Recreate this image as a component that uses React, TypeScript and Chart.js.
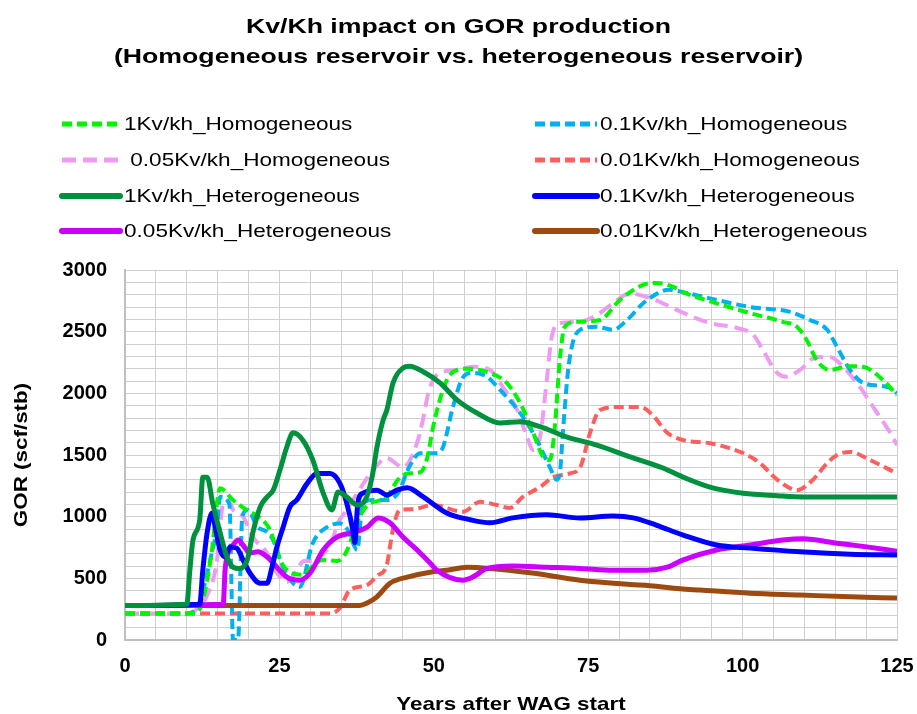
import { useEffect, useRef } from 'react';
import { Chart, registerables } from 'chart.js';

Chart.register(...registerables);

const TITLE_LINES = ['Kv/Kh impact on GOR production', '(Homogeneous reservoir vs. heterogeneous reservoir)'];
const X_TITLE = 'Years after WAG start';
const Y_TITLE = 'GOR (scf/stb)';

const LABELS = [
  '1Kv/kh_Homogeneous',
  '0.1Kv/kh_Homogeneous',
  '0.05Kv/kh_Homogeneous',
  '0.01Kv/kh_Homogeneous',
  '1Kv/kh_Heterogeneous',
  '0.1Kv/kh_Heterogeneous',
  '0.05Kv/kh_Heterogeneous',
  '0.01Kv/kh_Heterogeneous',
];

// 1Kv/kh_Homogeneous
const X_HOM_1 = [0, 11, 12.5, 14, 15.4, 17.5, 19.7, 21.9, 23.5, 25.1, 26.7, 28.8, 30.4, 32.1, 34.3, 35.9, 37.6, 39.2, 42.4, 44.2, 45.8, 47.8, 48.9, 49.9, 51.3, 52.6, 55.4, 59.1, 61.8, 64, 66.1, 67.7, 68.8, 69.6, 70.4, 71.2, 73.2, 76.9, 80.1, 83.9, 86.1, 88.7, 90.4, 95.8, 101.2, 106.5, 108.8, 110.4, 112, 114.1, 117.4, 119.5, 122.7, 125];
const Y_HOM_1 = [215, 215, 300, 700, 1230, 1135, 1055, 990, 890, 650, 550, 530, 600, 650, 640, 720, 960, 1090, 1160, 1300, 1350, 1360, 1470, 1730, 2000, 2150, 2200, 2165, 2085, 1920, 1680, 1485, 1460, 1730, 2270, 2540, 2580, 2595, 2755, 2880, 2895, 2865, 2820, 2730, 2650, 2580, 2540, 2430, 2270, 2190, 2220, 2215, 2110, 1985];

// 0.1Kv/kh_Homogeneous
const X_HOM_01 = [0, 10, 12, 13.8, 14.9, 15.4, 16.9, 17.5, 18.3, 19, 19.9, 21.4, 23, 24, 25.6, 27.2, 28.3, 30.4, 32.7, 34.8, 36.1, 37.6, 38.5, 40.2, 42.4, 44.2, 46, 47.8, 50.5, 51.5, 53.1, 54.8, 56.3, 58.6, 60.7, 64, 66.7, 68.8, 69.9, 70.4, 70.9, 71.7, 72.5, 73.7, 76.4, 79, 81.3, 83.9, 86.6, 88, 90.4, 94.7, 101.2, 107.7, 110.9, 113.7, 115.3, 117.4, 119.5, 123.9, 125];
const Y_HOM_01 = [215, 215, 300, 650, 920, 1160, 1100, 0, 0, 1000, 1055, 920, 875, 810, 590, 460, 430, 785, 915, 945, 890, 730, 1110, 1135, 1135, 1190, 1400, 1515, 1515, 1565, 1890, 2135, 2165, 2135, 2030, 1840, 1620, 1400, 1300, 1350, 1680, 2165, 2410, 2515, 2540, 2515, 2595, 2730, 2820, 2840, 2820, 2770, 2700, 2660, 2595, 2515, 2375, 2190, 2085, 2045, 2000];

// 0.05Kv/kh_Homogeneous
const X_HOM_005 = [0, 10.5, 12, 13.2, 14.9, 15.4, 15.9, 16.8, 17.5, 19.1, 20.7, 23, 24.6, 26.2, 27.5, 29, 31, 32.1, 33.2, 34.5, 35.9, 37.6, 40.2, 42.4, 45, 47.3, 48.3, 49.1, 50.5, 53.8, 56.3, 59.1, 61.2, 63.5, 65.1, 66.1, 67.2, 68.3, 69.1, 70.4, 73.7, 76.4, 79, 81.8, 84.5, 87.1, 89.4, 94.7, 99.1, 101.7, 103.3, 105.6, 107.2, 109.3, 112, 114.1, 116.3, 119, 121.8, 123.9, 125];
const Y_HOM_005 = [215, 215, 270, 350, 650, 915, 1110, 1130, 1055, 1000, 835, 705, 545, 470, 540, 640, 640, 705, 760, 950, 1055, 1190, 1380, 1475, 1400, 1600, 1800, 2000, 2150, 2190, 2215, 2190, 2050, 1865, 1645, 1540, 1645, 2110, 2460, 2570, 2580, 2635, 2730, 2810, 2780, 2730, 2675, 2570, 2530, 2475, 2350, 2165, 2135, 2190, 2295, 2295, 2215, 2050, 1840, 1680, 1580];

// 0.01Kv/kh_Homogeneous
const X_HOM_001 = [0, 33.2, 34.8, 36.4, 39.2, 40.8, 42.4, 42.9, 43.4, 44.5, 46.6, 49.9, 54.7, 57.5, 60.2, 62.3, 64.4, 67.2, 69.3, 72, 73.7, 75.3, 76.9, 80.1, 83.4, 85.5, 87.8, 90.4, 94.7, 100.1, 102.8, 105.6, 108.8, 111.4, 113.7, 115.3, 117.4, 120.6, 125];
const Y_HOM_001 = [215, 215, 260, 405, 445, 520, 610, 755, 900, 1055, 1060, 1095, 1040, 1120, 1095, 1070, 1160, 1240, 1320, 1350, 1400, 1680, 1865, 1890, 1890, 1820, 1680, 1620, 1595, 1515, 1435, 1300, 1215, 1300, 1435, 1500, 1525, 1460, 1350];

// 1Kv/kh_Heterogeneous
const X_HET_1 = [0, 10, 10.5, 11, 12.1, 12.6, 13.3, 14.2, 15.4, 16.5, 17.5, 18.6, 19.8, 20.7, 21.9, 23, 24, 25.1, 26.2, 27.2, 28.8, 30.4, 32.1, 33.5, 34.5, 35.9, 37.6, 38.9, 40, 40.8, 41.8, 42.4, 43.4, 45, 46.1, 48.3, 51, 53.8, 57, 60.7, 64, 67.2, 71.6, 76.4, 81.8, 87.1, 90.4, 94.7, 100.1, 105.6, 109.8, 125];
const Y_HET_1 = [280, 290, 565, 810, 975, 1320, 1320, 1110, 870, 675, 590, 580, 650, 870, 1080, 1160, 1215, 1380, 1565, 1680, 1620, 1460, 1190, 1055, 1200, 1160, 1095, 1135, 1320, 1565, 1785, 1865, 2085, 2205, 2220, 2175, 2085, 1945, 1840, 1760, 1770, 1730, 1645, 1580, 1485, 1395, 1320, 1240, 1190, 1170, 1160, 1160];

// 0.1Kv/kh_Heterogeneous
const X_HET_01 = [0, 12.1, 12.6, 13.3, 14.1, 14.6, 15.4, 16.2, 17, 18.1, 19.1, 20.2, 21.9, 23, 23.8, 24.6, 25.6, 26.7, 27.8, 29.5, 31.1, 33.2, 34.8, 35.9, 36.9, 37.2, 37.7, 38.5, 40.8, 42.4, 44, 45.7, 48.3, 52.1, 55.9, 59.1, 62.8, 68.3, 73.7, 79, 82.3, 86.1, 90.4, 95.8, 101.2, 109.3, 117.4, 125];
const Y_HET_01 = [280, 290, 565, 870, 1030, 915, 730, 675, 755, 745, 650, 545, 460, 460, 590, 755, 915, 1080, 1135, 1270, 1350, 1350, 1270, 1110, 890, 790, 1110, 1190, 1215, 1175, 1215, 1235, 1160, 1030, 975, 950, 990, 1015, 990, 1005, 990, 930, 850, 770, 745, 715, 695, 690];

// 0.05Kv/kh_Heterogeneous
const X_HET_005 = [0, 15.9, 16.2, 16.7, 17.5, 18.3, 19.1, 20.2, 21.5, 23, 24.6, 26.2, 28.3, 30, 32.1, 34.3, 36.9, 39.2, 41, 42.9, 45, 47.3, 49.4, 50.5, 54.7, 56.3, 58.6, 62.8, 68.3, 73.7, 79, 84.5, 87.8, 90.4, 95.8, 101.2, 106.5, 109.8, 115.3, 120.1, 125];
const Y_HET_005 = [280, 290, 565, 705, 770, 810, 770, 705, 715, 675, 590, 510, 485, 545, 730, 835, 870, 915, 990, 950, 835, 730, 625, 565, 485, 510, 580, 600, 590, 580, 565, 565, 590, 650, 730, 770, 810, 820, 785, 755, 720];

// 0.01Kv/kh_Heterogeneous
const X_HET_001 = [0, 38, 39.2, 40.8, 42.9, 45.7, 49.4, 52.1, 55.4, 59.1, 65.6, 73.7, 81.8, 85, 89.9, 93.1, 101.2, 109.3, 117.4, 125];
const Y_HET_001 = [280, 280, 300, 350, 460, 510, 550, 565, 590, 580, 545, 485, 450, 440, 415, 405, 380, 365, 350, 340];

const X_TICK_LABELS = [0, 25, 50, 75, 100, 125];
const Y_TICK_LABELS = [0, 500, 1000, 1500, 2000, 2500, 3000];

const FONT = '"Liberation Sans", Arial, Helvetica, sans-serif';

type Style = { color: string; width: number; dash: number[] };
const STYLES: Style[] = [
  { color: '#00F500', width: 4, dash: [10, 5] },
  { color: '#00B0F0', width: 4, dash: [10, 5] },
  { color: '#EE9CF2', width: 4, dash: [14, 7] },
  { color: '#FF5E5E', width: 4, dash: [10, 5] },
  { color: '#00913F', width: 5, dash: [] },
  { color: '#0000FF', width: 5, dash: [] },
  { color: '#CC00FF', width: 5, dash: [] },
  { color: '#9C4A10', width: 5, dash: [] },
];

const SERIES_X = [X_HOM_1, X_HOM_01, X_HOM_005, X_HOM_001, X_HET_1, X_HET_01, X_HET_005, X_HET_001];
const SERIES_Y = [Y_HOM_1, Y_HOM_01, Y_HOM_005, Y_HOM_001, Y_HET_1, Y_HET_01, Y_HET_005, Y_HET_001];

function stretchText(ctx: CanvasRenderingContext2D, text: string, x: number, y: number, sx: number) {
  ctx.save();
  ctx.translate(x, y);
  ctx.scale(sx, 1);
  ctx.fillText(text, 0, 0);
  ctx.restore();
}

const decorPlugin = {
  id: 'decor',
  afterDraw(chart: any) {
    const ctx: CanvasRenderingContext2D = chart.ctx;
    const area = chart.chartArea;
    ctx.save();
    ctx.fillStyle = '#000';
    ctx.textBaseline = 'middle';
    // title
    ctx.textAlign = 'center';
    ctx.font = `bold 21px ${FONT}`;
    stretchText(ctx, TITLE_LINES[0], chart.width / 2, 27, 1.27);
    stretchText(ctx, TITLE_LINES[1], chart.width / 2, 57, 1.27);
    // legend
    const rows = [124, 160, 196, 231];
    const cols = [{ x0: 62, x1: 120, tx: 124 }, { x0: 535, x1: 597, tx: 600 }];
    ctx.font = `18.5px ${FONT}`;
    ctx.textAlign = 'left';
    for (let i = 0; i < LABELS.length; i++) {
      const r = Math.floor(i / 2);
      const c = cols[i % 2];
      const y = rows[r];
      const st = STYLES[i];
      ctx.save();
      ctx.strokeStyle = st.color;
      ctx.lineWidth = st.width + 1;
      ctx.setLineDash(st.dash);
      ctx.lineCap = st.dash.length ? 'butt' : 'round';
      ctx.beginPath();
      ctx.moveTo(c.x0, y);
      ctx.lineTo(c.x1, y);
      ctx.stroke();
      ctx.restore();
      stretchText(ctx, (i === 2 ? ' ' : '') + LABELS[i], c.tx, y + 1, 1.22);
    }
    // axis titles
    ctx.textAlign = 'center';
    ctx.font = `bold 19px ${FONT}`;
    stretchText(ctx, X_TITLE, (area.left + area.right) / 2, 705, 1.18);
    ctx.save();
    ctx.translate(22, (area.top + area.bottom) / 2);
    ctx.rotate(-Math.PI / 2);
    ctx.scale(1.18, 1);
    ctx.fillText(Y_TITLE, 0, 0);
    ctx.restore();
    ctx.restore();
  },
};

export default function App() {
  const ref = useRef<HTMLCanvasElement | null>(null);

  useEffect(() => {
    document.body.style.margin = '0';
    const canvas = ref.current;
    if (!canvas) return;
    Chart.defaults.font.family = FONT;
    const datasets = SERIES_X.map((xs, i) => ({
      label: LABELS[i],
      data: xs.map((x, j) => ({ x, y: SERIES_Y[i][j] })),
      borderColor: STYLES[i].color,
      backgroundColor: STYLES[i].color,
      borderWidth: STYLES[i].width,
      borderDash: STYLES[i].dash,
      borderCapStyle: 'butt' as const,
      borderJoinStyle: 'round' as const,
      pointRadius: 0,
      fill: false,
      cubicInterpolationMode: 'monotone' as const,
      order: i < 4 ? 1 : 0,
    }));
    const chart = new Chart(canvas, {
      type: 'line',
      data: { datasets },
      options: {
        responsive: false,
        animation: false,
        devicePixelRatio: 1,
        layout: { padding: { top: 270, right: 20, left: 0, bottom: 0 } },
        plugins: {
          legend: { display: false },
          title: { display: false },
          tooltip: { enabled: false },
        },
        scales: {
          x: {
            type: 'linear',
            min: 0,
            max: 125,
            ticks: {
              stepSize: 5,
              autoSkip: false,
              maxRotation: 0,
              padding: 14,
              color: '#000',
              font: { size: 20, weight: 'bold' },
              callback: (v: any) => (X_TICK_LABELS.includes(Number(v)) ? String(v) : ''),
            },
            grid: { color: '#D0D0D0', lineWidth: 1, drawTicks: false },
            border: { color: '#BFBFBF', width: 2 },
            afterFit: (s: any) => { s.height = 74; s.paddingRight = 0; s.paddingLeft = 0; },
          },
          y: {
            min: 0,
            max: 3000,
            ticks: {
              stepSize: 100,
              autoSkip: false,
              padding: 18,
              color: '#000',
              font: { size: 20, weight: 'bold' },
              callback: (v: any) => (Y_TICK_LABELS.includes(Number(v)) ? String(v) : ''),
            },
            grid: { color: '#D0D0D0', lineWidth: 1, drawTicks: false },
            border: { color: '#BFBFBF', width: 2 },
            afterFit: (s: any) => { s.width = 125; s.paddingTop = 0; s.paddingBottom = 0; },
          },
        },
      },
      plugins: [decorPlugin],
    });
    return () => chart.destroy();
  }, []);

  return (
    <div style={{ width: 917, height: 714, background: '#fff' }}>
      <canvas ref={ref} width={917} height={714} style={{ display: 'block' }} />
    </div>
  );
}
